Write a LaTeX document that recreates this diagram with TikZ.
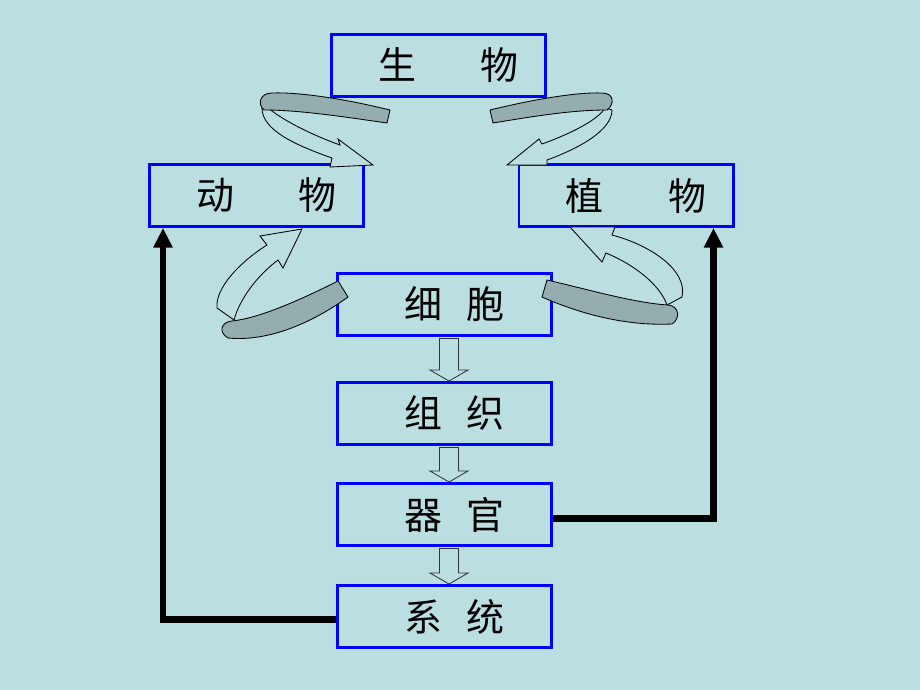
\documentclass[tikz,border=0pt]{standalone}
\usepackage{fontspec}
\setmainfont{Noto Sans CJK SC}
\usetikzlibrary{arrows.meta,calc}
\definecolor{slide}{RGB}{187,222,225}
\definecolor{ribbon}{RGB}{148,174,175}

\begin{document}
\begin{tikzpicture}[x=0.025cm,y=-0.025cm,
  box/.style={draw=blue,line width=2.1pt,minimum width=5.35cm,minimum height=1.55cm,
    font=\fontsize{27}{30}\selectfont,inner sep=0pt,execute at begin node={\hskip14pt}},
  feed/.style={-{Triangle[length=14pt,width=13pt]},line width=4.3pt},
  hollow/.style={draw=black!80,fill=slide,line width=0.6pt},
  band/.style={draw=black,fill=ribbon,line width=0.6pt},
  shaft/.style={draw=black,fill=slide,line width=0.6pt}]
\fill[slide] (0,0) rectangle (920,690);
\useasboundingbox (0,0) rectangle (920,690);
\node[box] (bio) at (438.5,65.5) {生\hspace{1.7em}物};
\node[box] (animal) at (256.5,195.5) {动\hspace{1.7em}物};
\node[box] (plant) at (626,195.5) {植\hspace{1.7em}物};
\node[box] (cell) at (444.5,304.5) {细\hspace{0.63em}胞};
\node[box] (tissue) at (444.5,413.5) {组\hspace{0.63em}织};
\node[box] (organ) at (444.5,514.5) {器\hspace{0.63em}官};
\node[box] (system) at (444.5,616.5) {系\hspace{0.63em}统};
% hollow arrows down the column
\foreach \a/\b in {cell/tissue,tissue/organ,organ/system}
  \draw[hollow] ($(\a.south)+(-5,1.5)$) -- ($(\b.north)+(-5,-11)$)
    -- ($(\b.north)+(-14.5,-11)$) -- ($(\b.north)+(4.5,0)$)
    -- ($(\b.north)+(23.5,-11)$) -- ($(\b.north)+(14,-11)$)
    -- ($(\a.south)+(14,1.5)$) -- cycle;
\draw[feed] ($(system.west)+(0,3)$) -| ($(animal.south west)+(15,0)$);
\draw[feed] ($(organ.east)+(0,4)$) -| ($(plant.south east)+(-21,0)$);
% curled arrows: bio -> animal, bio -> plant
\draw[shaft] (267,107) .. controls (282,120) and (312,135) .. (340,145) -- (338,139)
  -- (373,165) -- (330,167) -- (332,158) .. controls (295,145) and (262,130) .. (262,108) -- cycle;
\draw[band] (390,110) .. controls (345,99) and (300,92) .. (272,93)
  .. controls (260,93) and (257,104) .. (264,110)
  .. controls (300,110) and (345,117) .. (387,123) -- cycle;
\draw[shaft] (612,110) .. controls (612,130) and (580,148) .. (547,160) -- (547,165)
  -- (507,165) -- (539,139) -- (542,144) .. controls (570,134) and (598,120) .. (605,108) -- cycle;
\draw[band] (490,110) .. controls (535,99) and (578,92) .. (602,93)
  .. controls (614,93) and (615,104) .. (607,110)
  .. controls (570,110) and (530,117) .. (493,123) -- cycle;
% curled arrows: cell -> animal, cell -> plant
\draw[shaft] (217,308) .. controls (215,288) and (240,262) .. (267,245) -- (260,236)
  -- (302,229) -- (283,268) -- (278,260) .. controls (258,275) and (240,298) .. (234,320) -- cycle;
\draw[band] (338,281) .. controls (300,300) and (260,318) .. (232,321)
  .. controls (221,322) and (218,332) .. (228,338)
  .. controls (268,342) and (312,323) .. (348,297) -- cycle;
\draw[shaft] (682,297) .. controls (688,270) and (650,245) .. (612,235) -- (615,227)
  -- (570,227) -- (602,262) -- (606,253) .. controls (635,265) and (660,285) .. (667,305) -- cycle;
\draw[band] (547,280) .. controls (590,290) and (635,303) .. (668,305)
  .. controls (679,306) and (681,318) .. (672,324)
  .. controls (630,326) and (585,316) .. (542,297) -- cycle;
\end{tikzpicture}
\end{document}
